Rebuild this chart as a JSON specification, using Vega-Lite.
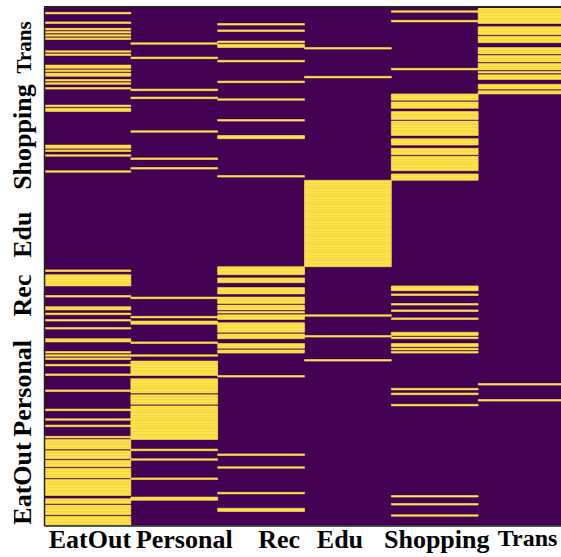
{"$schema":"https://vega.github.io/schema/vega-lite/v6.json","width":517,"height":518.4,"autosize":"none","padding":{"left":44,"top":7,"right":0,"bottom":31.6},"background":"white","view":{"fill":"#440154","stroke":null},
"data":{"values":[
{"c":"EatOut","r":3},{"c":"EatOut","r":9},{"c":"EatOut","r":13},{"c":"EatOut","r":15},{"c":"EatOut","r":17},{"c":"EatOut","r":19},{"c":"EatOut","r":27},{"c":"EatOut","r":29},{"c":"EatOut","r":36},{"c":"EatOut","r":37},{"c":"EatOut","r":39},{"c":"EatOut","r":41},{"c":"EatOut","r":42},{"c":"EatOut","r":45},{"c":"EatOut","r":47},{"c":"EatOut","r":50},{"c":"EatOut","r":61},{"c":"EatOut","r":63},{"c":"EatOut","r":64},{"c":"EatOut","r":86},{"c":"EatOut","r":87},{"c":"EatOut","r":89},{"c":"EatOut","r":92},{"c":"EatOut","r":102},
{"c":"EatOut","r":164},{"c":"EatOut","r":167},{"c":"EatOut","r":168},{"c":"EatOut","r":169},{"c":"EatOut","r":170},{"c":"EatOut","r":171},{"c":"EatOut","r":172},{"c":"EatOut","r":173},{"c":"EatOut","r":180},{"c":"EatOut","r":187},{"c":"EatOut","r":188},{"c":"EatOut","r":191},{"c":"EatOut","r":195},{"c":"EatOut","r":200},{"c":"EatOut","r":207},{"c":"EatOut","r":208},{"c":"EatOut","r":215},{"c":"EatOut","r":217},{"c":"EatOut","r":219},{"c":"EatOut","r":223},{"c":"EatOut","r":229},{"c":"EatOut","r":239},{"c":"EatOut","r":251},{"c":"EatOut","r":257},{"c":"EatOut","r":261},{"c":"EatOut","r":268},
{"c":"EatOut","r":270},{"c":"EatOut","r":271},{"c":"EatOut","r":272},{"c":"EatOut","r":273},{"c":"EatOut","r":274},{"c":"EatOut","r":275},{"c":"EatOut","r":277},{"c":"EatOut","r":278},{"c":"EatOut","r":279},{"c":"EatOut","r":280},{"c":"EatOut","r":281},{"c":"EatOut","r":283},{"c":"EatOut","r":284},{"c":"EatOut","r":285},{"c":"EatOut","r":286},{"c":"EatOut","r":288},{"c":"EatOut","r":289},{"c":"EatOut","r":290},{"c":"EatOut","r":291},{"c":"EatOut","r":292},{"c":"EatOut","r":293},{"c":"EatOut","r":295},{"c":"EatOut","r":296},{"c":"EatOut","r":297},{"c":"EatOut","r":298},{"c":"EatOut","r":299},{"c":"EatOut","r":300},{"c":"EatOut","r":301},{"c":"EatOut","r":302},{"c":"EatOut","r":303},{"c":"EatOut","r":304},{"c":"EatOut","r":307},{"c":"EatOut","r":308},{"c":"EatOut","r":309},{"c":"EatOut","r":311},{"c":"EatOut","r":312},{"c":"EatOut","r":313},{"c":"EatOut","r":314},{"c":"EatOut","r":315},{"c":"EatOut","r":316},{"c":"EatOut","r":318},{"c":"EatOut","r":319},{"c":"EatOut","r":320},{"c":"EatOut","r":321},{"c":"EatOut","r":322},{"c":"EatOut","r":323},
{"c":"Personal","r":22},{"c":"Personal","r":31},{"c":"Personal","r":51},{"c":"Personal","r":56},{"c":"Personal","r":77},{"c":"Personal","r":94},{"c":"Personal","r":100},{"c":"Personal","r":181},{"c":"Personal","r":193},{"c":"Personal","r":196},{"c":"Personal","r":197},{"c":"Personal","r":209},{"c":"Personal","r":217},
{"c":"Personal","r":221},{"c":"Personal","r":222},{"c":"Personal","r":223},{"c":"Personal","r":224},{"c":"Personal","r":225},{"c":"Personal","r":226},{"c":"Personal","r":227},{"c":"Personal","r":228},{"c":"Personal","r":229},{"c":"Personal","r":232},{"c":"Personal","r":233},{"c":"Personal","r":234},{"c":"Personal","r":235},{"c":"Personal","r":236},{"c":"Personal","r":237},{"c":"Personal","r":238},{"c":"Personal","r":239},{"c":"Personal","r":240},{"c":"Personal","r":242},{"c":"Personal","r":243},{"c":"Personal","r":244},{"c":"Personal","r":245},{"c":"Personal","r":246},{"c":"Personal","r":247},{"c":"Personal","r":249},{"c":"Personal","r":250},{"c":"Personal","r":251},{"c":"Personal","r":252},{"c":"Personal","r":253},{"c":"Personal","r":254},{"c":"Personal","r":255},{"c":"Personal","r":256},{"c":"Personal","r":257},{"c":"Personal","r":258},{"c":"Personal","r":259},{"c":"Personal","r":260},{"c":"Personal","r":261},{"c":"Personal","r":262},{"c":"Personal","r":263},{"c":"Personal","r":264},{"c":"Personal","r":265},{"c":"Personal","r":266},{"c":"Personal","r":267},{"c":"Personal","r":268},{"c":"Personal","r":269},{"c":"Personal","r":276},{"c":"Personal","r":282},{"c":"Personal","r":294},{"c":"Personal","r":306},{"c":"Personal","r":307},
{"c":"Rec","r":10},{"c":"Rec","r":14},{"c":"Rec","r":21},{"c":"Rec","r":23},{"c":"Rec","r":24},{"c":"Rec","r":33},{"c":"Rec","r":46},{"c":"Rec","r":57},{"c":"Rec","r":70},{"c":"Rec","r":80},{"c":"Rec","r":81},{"c":"Rec","r":105},
{"c":"Rec","r":162},{"c":"Rec","r":163},{"c":"Rec","r":164},{"c":"Rec","r":165},{"c":"Rec","r":166},{"c":"Rec","r":169},{"c":"Rec","r":170},{"c":"Rec","r":171},{"c":"Rec","r":175},{"c":"Rec","r":176},{"c":"Rec","r":177},{"c":"Rec","r":178},{"c":"Rec","r":181},{"c":"Rec","r":182},{"c":"Rec","r":183},{"c":"Rec","r":184},{"c":"Rec","r":186},{"c":"Rec","r":187},{"c":"Rec","r":188},{"c":"Rec","r":190},{"c":"Rec","r":192},{"c":"Rec","r":193},{"c":"Rec","r":194},{"c":"Rec","r":197},{"c":"Rec","r":198},{"c":"Rec","r":199},{"c":"Rec","r":200},{"c":"Rec","r":201},{"c":"Rec","r":202},{"c":"Rec","r":204},{"c":"Rec","r":205},{"c":"Rec","r":206},{"c":"Rec","r":210},{"c":"Rec","r":211},{"c":"Rec","r":212},{"c":"Rec","r":214},{"c":"Rec","r":215},{"c":"Rec","r":230},{"c":"Rec","r":279},{"c":"Rec","r":287},{"c":"Rec","r":303},{"c":"Rec","r":313},{"c":"Rec","r":314},
{"c":"Edu","r":25},{"c":"Edu","r":43},
{"c":"Edu","r":108},{"c":"Edu","r":109},{"c":"Edu","r":110},{"c":"Edu","r":111},{"c":"Edu","r":112},{"c":"Edu","r":113},{"c":"Edu","r":114},{"c":"Edu","r":115},{"c":"Edu","r":116},{"c":"Edu","r":117},{"c":"Edu","r":118},{"c":"Edu","r":119},{"c":"Edu","r":120},{"c":"Edu","r":121},{"c":"Edu","r":122},{"c":"Edu","r":123},{"c":"Edu","r":124},{"c":"Edu","r":125},{"c":"Edu","r":126},{"c":"Edu","r":127},{"c":"Edu","r":128},{"c":"Edu","r":129},{"c":"Edu","r":130},{"c":"Edu","r":131},{"c":"Edu","r":132},{"c":"Edu","r":133},{"c":"Edu","r":134},{"c":"Edu","r":135},{"c":"Edu","r":136},{"c":"Edu","r":137},{"c":"Edu","r":138},{"c":"Edu","r":139},{"c":"Edu","r":140},{"c":"Edu","r":141},{"c":"Edu","r":142},{"c":"Edu","r":143},{"c":"Edu","r":144},{"c":"Edu","r":145},{"c":"Edu","r":146},{"c":"Edu","r":147},{"c":"Edu","r":148},{"c":"Edu","r":149},{"c":"Edu","r":150},{"c":"Edu","r":151},{"c":"Edu","r":152},{"c":"Edu","r":153},{"c":"Edu","r":154},{"c":"Edu","r":155},{"c":"Edu","r":156},{"c":"Edu","r":157},{"c":"Edu","r":158},{"c":"Edu","r":159},{"c":"Edu","r":160},{"c":"Edu","r":161},
{"c":"Edu","r":192},{"c":"Edu","r":205},{"c":"Edu","r":220},
{"c":"Shopping","r":2},{"c":"Shopping","r":8},{"c":"Shopping","r":38},
{"c":"Shopping","r":54},{"c":"Shopping","r":55},{"c":"Shopping","r":56},{"c":"Shopping","r":57},{"c":"Shopping","r":59},{"c":"Shopping","r":60},{"c":"Shopping","r":61},{"c":"Shopping","r":62},{"c":"Shopping","r":65},{"c":"Shopping","r":66},{"c":"Shopping","r":67},{"c":"Shopping","r":68},{"c":"Shopping","r":69},{"c":"Shopping","r":71},{"c":"Shopping","r":72},{"c":"Shopping","r":73},{"c":"Shopping","r":74},{"c":"Shopping","r":75},{"c":"Shopping","r":76},{"c":"Shopping","r":77},{"c":"Shopping","r":78},{"c":"Shopping","r":79},{"c":"Shopping","r":82},{"c":"Shopping","r":83},{"c":"Shopping","r":84},{"c":"Shopping","r":85},{"c":"Shopping","r":88},{"c":"Shopping","r":89},{"c":"Shopping","r":90},{"c":"Shopping","r":91},{"c":"Shopping","r":93},{"c":"Shopping","r":94},{"c":"Shopping","r":95},{"c":"Shopping","r":96},{"c":"Shopping","r":97},{"c":"Shopping","r":98},{"c":"Shopping","r":99},{"c":"Shopping","r":100},{"c":"Shopping","r":101},{"c":"Shopping","r":104},{"c":"Shopping","r":105},{"c":"Shopping","r":106},{"c":"Shopping","r":107},
{"c":"Shopping","r":174},{"c":"Shopping","r":175},{"c":"Shopping","r":176},{"c":"Shopping","r":179},{"c":"Shopping","r":185},{"c":"Shopping","r":189},{"c":"Shopping","r":194},{"c":"Shopping","r":203},{"c":"Shopping","r":204},{"c":"Shopping","r":206},{"c":"Shopping","r":210},{"c":"Shopping","r":211},{"c":"Shopping","r":213},{"c":"Shopping","r":215},{"c":"Shopping","r":238},{"c":"Shopping","r":241},{"c":"Shopping","r":248},{"c":"Shopping","r":305},{"c":"Shopping","r":310},{"c":"Shopping","r":317},
{"c":"Trans","r":0},{"c":"Trans","r":1},{"c":"Trans","r":2},{"c":"Trans","r":3},{"c":"Trans","r":4},{"c":"Trans","r":5},{"c":"Trans","r":6},{"c":"Trans","r":7},{"c":"Trans","r":8},{"c":"Trans","r":9},{"c":"Trans","r":12},{"c":"Trans","r":13},{"c":"Trans","r":14},{"c":"Trans","r":15},{"c":"Trans","r":16},{"c":"Trans","r":18},{"c":"Trans","r":19},{"c":"Trans","r":20},{"c":"Trans","r":21},{"c":"Trans","r":25},{"c":"Trans","r":26},{"c":"Trans","r":27},{"c":"Trans","r":28},{"c":"Trans","r":30},{"c":"Trans","r":31},{"c":"Trans","r":32},{"c":"Trans","r":33},{"c":"Trans","r":35},{"c":"Trans","r":36},{"c":"Trans","r":37},{"c":"Trans","r":38},{"c":"Trans","r":40},{"c":"Trans","r":42},{"c":"Trans","r":43},{"c":"Trans","r":44},{"c":"Trans","r":48},{"c":"Trans","r":49},{"c":"Trans","r":50},{"c":"Trans","r":52},{"c":"Trans","r":53},{"c":"Trans","r":235},{"c":"Trans","r":245}
]},
"layer":[
{"mark":{"type":"rect","color":"#fee34a","stroke":"#fee34a","strokeWidth":0.6,"clip":true},
"encoding":{
"x":{"field":"c","type":"nominal","title":null,"sort":null,"scale":{"domain":["EatOut","Personal","Rec","Edu","Shopping","Trans"],"range":[0,521],"paddingInner":0,"paddingOuter":0},
"axis":{"domainColor":"#222222","domainWidth":1.5,"ticks":false,"labelAngle":0,"labelFont":"Liberation Serif","labelFontWeight":"bold","labelFontSize":{"condition":{"test":"datum.value==='Trans'","value":24},"value":26},"labelColor":"black","labelPadding":1,"labelOverlap":false,"labelBound":false,"labelFlush":false,"grid":false,
"labelOffset":{"condition":[{"test":"datum.value==='EatOut'","value":2.5},{"test":"datum.value==='Personal'","value":10},{"test":"datum.value==='Rec'","value":18},{"test":"datum.value==='Edu'","value":-8},{"test":"datum.value==='Shopping'","value":2}],"value":6}}},
"y":{"field":"r","type":"quantitative","title":null,"bin":{"step":1,"extent":[0,324]},"scale":{"domain":[0,324],"reverse":true,"nice":false,"zero":false},
"axis":{"values":[25,81,142,180,238,297.5],"labelExpr":"datum.value==25?'Trans':datum.value==81?'Shopping':datum.value==142?'Edu':datum.value==180?'Rec':datum.value==238?'Personal':'EatOut'","domainColor":"#222222","domainWidth":1.5,"ticks":false,"grid":false,"labelAngle":-90,"labelAlign":"center","labelBaseline":"alphabetic","labelFont":"Liberation Serif","labelFontWeight":"bold","labelFontSize":{"condition":{"test":"datum.value==25","value":21},"value":26},"labelColor":"black","labelPadding":14,"labelOverlap":false,"labelBound":false,"labelFlush":false}}
}},
{"mark":{"type":"rule","color":"#222222","strokeWidth":2},"encoding":{"y":{"datum":0}}}
]}
